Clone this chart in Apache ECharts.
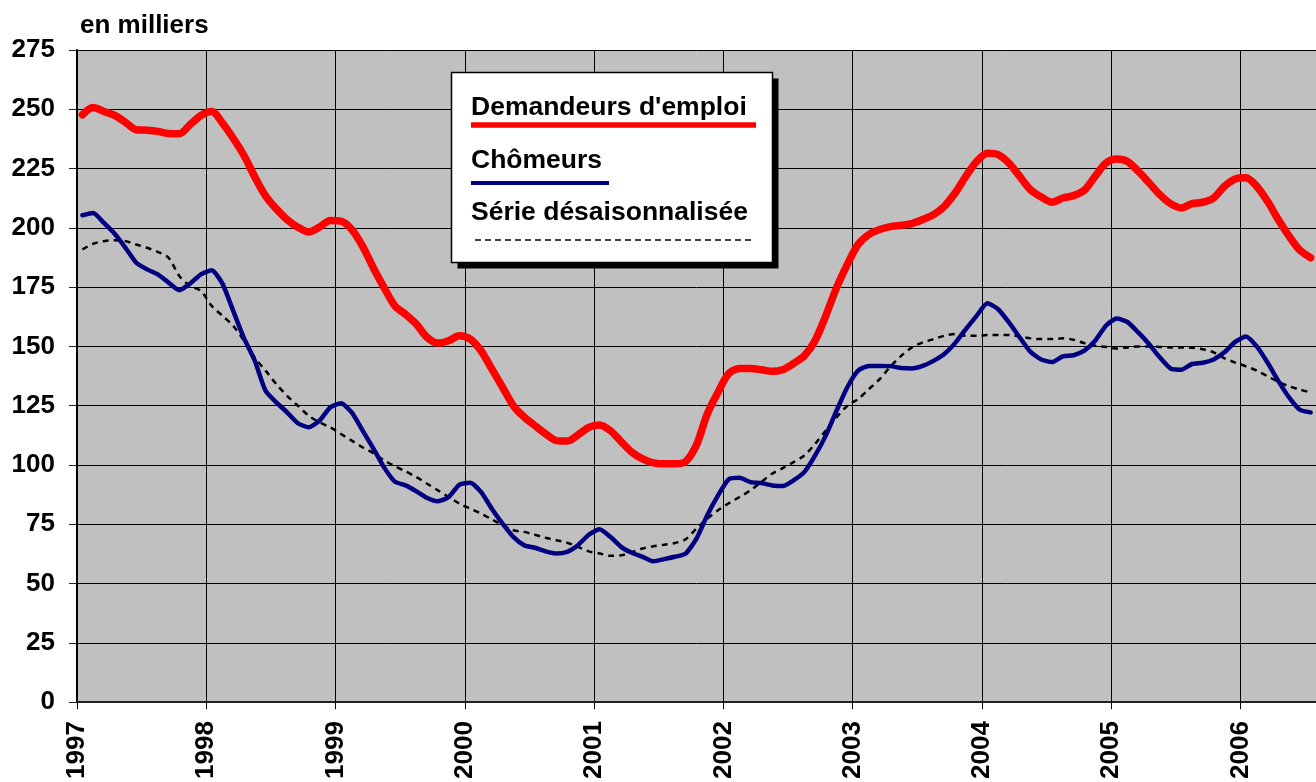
<!DOCTYPE html>
<html>
<head>
<meta charset="utf-8">
<script src="https://cdn.jsdelivr.net/npm/echarts@6/dist/echarts.min.js"></script>
<style>
html,body{margin:0;padding:0;background:#fff;}
#chart{width:1316px;height:782px;}
</style>
</head>
<body>
<div id="chart"></div>
<script>
// Tick labels (one per January)
const years = ['1997','1998','1999','2000','2001','2002','2003','2004','2005','2006'];
// Monthly values, in thousands, from January 1997 (one value per month)
const demandeurs = [
  247.7, 250.8, 249.1, 247.4, 244.5, 241.4, 241.2, 240.7, 239.8, 239.7,
  243.5, 247.4, 249.1, 244.2, 237.8, 230.5, 221.5, 213.5, 208.0, 203.5,
  200.3, 198.3, 200.3, 203.1, 202.8, 199.3, 192.3, 183.2, 174.8, 167.1,
  163.5, 159.4, 153.8, 151.4, 152.4, 154.5, 153.1, 148.2, 140.5, 132.8,
  125.0, 120.2, 116.6, 113.1, 110.3, 110.1, 112.7, 115.9, 116.9, 114.5,
  109.9, 105.4, 102.6, 100.9, 100.5, 100.5, 101.5, 108.5, 121.5, 130.7,
  138.6, 140.7, 140.7, 140.2, 139.5, 140.2, 142.8, 146.0, 152.4, 162.9,
  174.8, 184.6, 193.0, 197.2, 199.3, 200.5, 201.1, 201.8, 203.5, 205.6,
  209.1, 214.7, 221.7, 228.0, 231.5, 230.9, 227.3, 221.7, 216.1, 213.0,
  210.8, 212.6, 213.6, 215.9, 221.7, 227.3, 229.0, 228.0, 223.9, 219.0,
  214.0, 210.2, 208.4, 210.2, 210.8, 212.6, 217.5, 220.6, 221.1, 217.5,
  211.2, 203.5, 196.5, 190.6, 187.4
];
const chomeurs = [
  205.3, 206.3, 202.1, 197.5, 191.6, 185.3, 182.5, 180.4, 176.9, 173.7,
  176.5, 180.4, 182.1, 176.5, 165.0, 153.5, 144.0, 131.3, 126.4, 122.2,
  117.6, 115.9, 118.7, 124.3, 126.0, 122.2, 114.6, 107.0, 99.0, 93.0,
  91.4, 88.9, 86.1, 84.7, 86.5, 91.7, 92.5, 88.6, 81.6, 75.3,
  69.7, 66.2, 65.1, 63.6, 62.7, 63.4, 66.2, 70.6, 72.9, 69.7,
  65.5, 63.0, 61.3, 59.4, 60.3, 61.3, 62.7, 69.0, 78.8, 87.2,
  94.0, 94.6, 92.8, 92.4, 91.4, 91.1, 93.5, 97.0, 104.0, 112.4,
  122.9, 132.8, 139.8, 141.8, 141.8, 141.7, 140.9, 140.7, 141.8, 143.9,
  146.8, 151.4, 157.3, 162.9, 168.2, 165.7, 160.1, 153.8, 147.7, 144.5,
  143.4, 145.8, 146.3, 148.2, 152.4, 158.7, 161.8, 160.3, 155.9, 151.0,
  145.4, 140.7, 140.2, 142.6, 143.1, 144.5, 147.5, 151.9, 154.2, 150.0,
  143.2, 135.5, 128.5, 123.3, 122.2
];
const serieCVS = [
  190.9, 193.3, 194.4, 194.8, 194.4, 193.0, 191.6, 189.9, 187.4, 179.7,
  175.5, 173.4, 167.1, 162.9, 158.7, 152.4, 145.3, 139.8, 134.1, 129.2,
  125.0, 120.8, 118.0, 115.9, 113.1, 110.3, 107.5, 105.0, 102.0, 99.5,
  97.3, 94.9, 92.1, 89.3, 86.5, 83.7, 81.6, 79.5, 77.1, 74.6,
  72.5, 71.8, 70.6, 69.3, 68.3, 67.2, 65.5, 63.6, 62.7, 61.7,
  61.9, 63.2, 64.8, 65.7, 66.4, 67.1, 68.7, 73.2, 77.4, 80.9,
  83.9, 86.5, 89.3, 92.8, 96.3, 98.7, 101.2, 104.0, 108.9, 114.5,
  120.1, 125.0, 127.8, 132.0, 136.2, 141.5, 146.0, 149.6, 151.7, 153.1,
  154.5, 155.2, 154.5, 154.5, 154.8, 154.8, 154.8, 154.2, 153.4, 153.1,
  153.1, 153.4, 152.8, 151.4, 150.3, 149.8, 149.1, 149.6, 150.0, 150.0,
  149.8, 149.6, 149.6, 149.4, 148.8, 147.5, 145.0, 143.2, 141.6, 139.8,
  137.4, 135.1, 133.2, 131.8, 130.6
];
const seriesNames = ["Demandeurs d'emploi", 'Chômeurs', 'Série désaisonnalisée'];
const titleText = 'en milliers';

// month index -> position in the middle of the month
const toPairs = arr => arr.map((v, i) => [i + 0.5, v]);
const FONT = '"Liberation Sans", Arial, sans-serif';

const chart = echarts.init(document.getElementById('chart'), null, {renderer: 'canvas'});
chart.setOption({
  animation: false,
  backgroundColor: '#ffffff',
  grid: {
    left: 77, top: 50, right: 0, bottom: 78,
    show: true, backgroundColor: '#C0C0C0', borderWidth: 0
  },
  xAxis: {
    type: 'value', min: 0, max: demandeurs.length, interval: 12,
    axisLine: {show: true, onZero: false, lineStyle: {color: '#222', width: 2}},
    axisTick: {show: true, length: 7, lineStyle: {color: '#000', width: 1}},
    splitLine: {show: true, lineStyle: {color: '#000', width: 1}},
    axisLabel: {
      rotate: 90, margin: 19, color: '#000', fontSize: 26, fontWeight: 'bold', fontFamily: FONT,
      showMaxLabel: false, padding: [7, 0, 0, 0],
      formatter: v => (v % 12 === 0 && years[v / 12] !== undefined) ? years[v / 12] : ''
    }
  },
  yAxis: {
    type: 'value', min: 0, max: 275, interval: 25,
    axisLine: {show: true, lineStyle: {color: '#000', width: 2}},
    axisTick: {show: true, length: 8, lineStyle: {color: '#222', width: 1}},
    splitLine: {show: true, lineStyle: {color: '#000', width: 1}},
    axisLabel: {margin: 22, color: '#000', fontSize: 26, fontWeight: 'bold', fontFamily: FONT}
  },
  series: [
    {
      name: seriesNames[2], type: 'line', data: toPairs(serieCVS), showSymbol: false, smooth: 0.3,
      lineStyle: {color: '#000', width: 2.5, type: [6, 5], cap: 'butt'}, z: 2
    },
    {
      name: seriesNames[1], type: 'line', data: toPairs(chomeurs), showSymbol: false, smooth: 0.2,
      lineStyle: {color: '#000080', width: 4.5, cap: 'round', join: 'round'}, z: 3
    },
    {
      name: seriesNames[0], type: 'line', data: toPairs(demandeurs), showSymbol: false, smooth: 0.3,
      lineStyle: {color: '#FF0000', width: 7.5, cap: 'round', join: 'round'}, z: 4
    }
  ],
  graphic: [
    {type: 'text', z: 100, style: {x: 80, y: 26, text: titleText, font: 'bold 26px ' + FONT, fill: '#000', verticalAlign: 'middle'}},
    {type: 'rect', z: 100, shape: {x: 457.5, y: 78.5, width: 321, height: 190}, style: {fill: '#000'}},
    {type: 'rect', z: 101, shape: {x: 451.5, y: 72.5, width: 321, height: 190}, style: {fill: '#fff', stroke: '#000', lineWidth: 1.5}},
    {type: 'text', z: 102, style: {x: 471, y: 108, text: seriesNames[0], font: 'bold 26.5px ' + FONT, fill: '#000', verticalAlign: 'middle'}},
    {type: 'line', z: 102, shape: {x1: 471, y1: 125, x2: 756, y2: 125}, style: {stroke: '#FF0000', lineWidth: 5.5}},
    {type: 'text', z: 102, style: {x: 471, y: 160.5, text: seriesNames[1], font: 'bold 26.5px ' + FONT, fill: '#000', verticalAlign: 'middle'}},
    {type: 'line', z: 102, shape: {x1: 471, y1: 183, x2: 609, y2: 183}, style: {stroke: '#000080', lineWidth: 4}},
    {type: 'text', z: 102, style: {x: 471, y: 213, text: seriesNames[2], font: 'bold 26.5px ' + FONT, fill: '#000', verticalAlign: 'middle'}},
    {type: 'line', z: 102, shape: {x1: 475, y1: 240, x2: 753, y2: 240}, style: {stroke: '#000', lineWidth: 1.5, lineDash: [6, 4]}}
  ]
});
</script>
</body>
</html>
